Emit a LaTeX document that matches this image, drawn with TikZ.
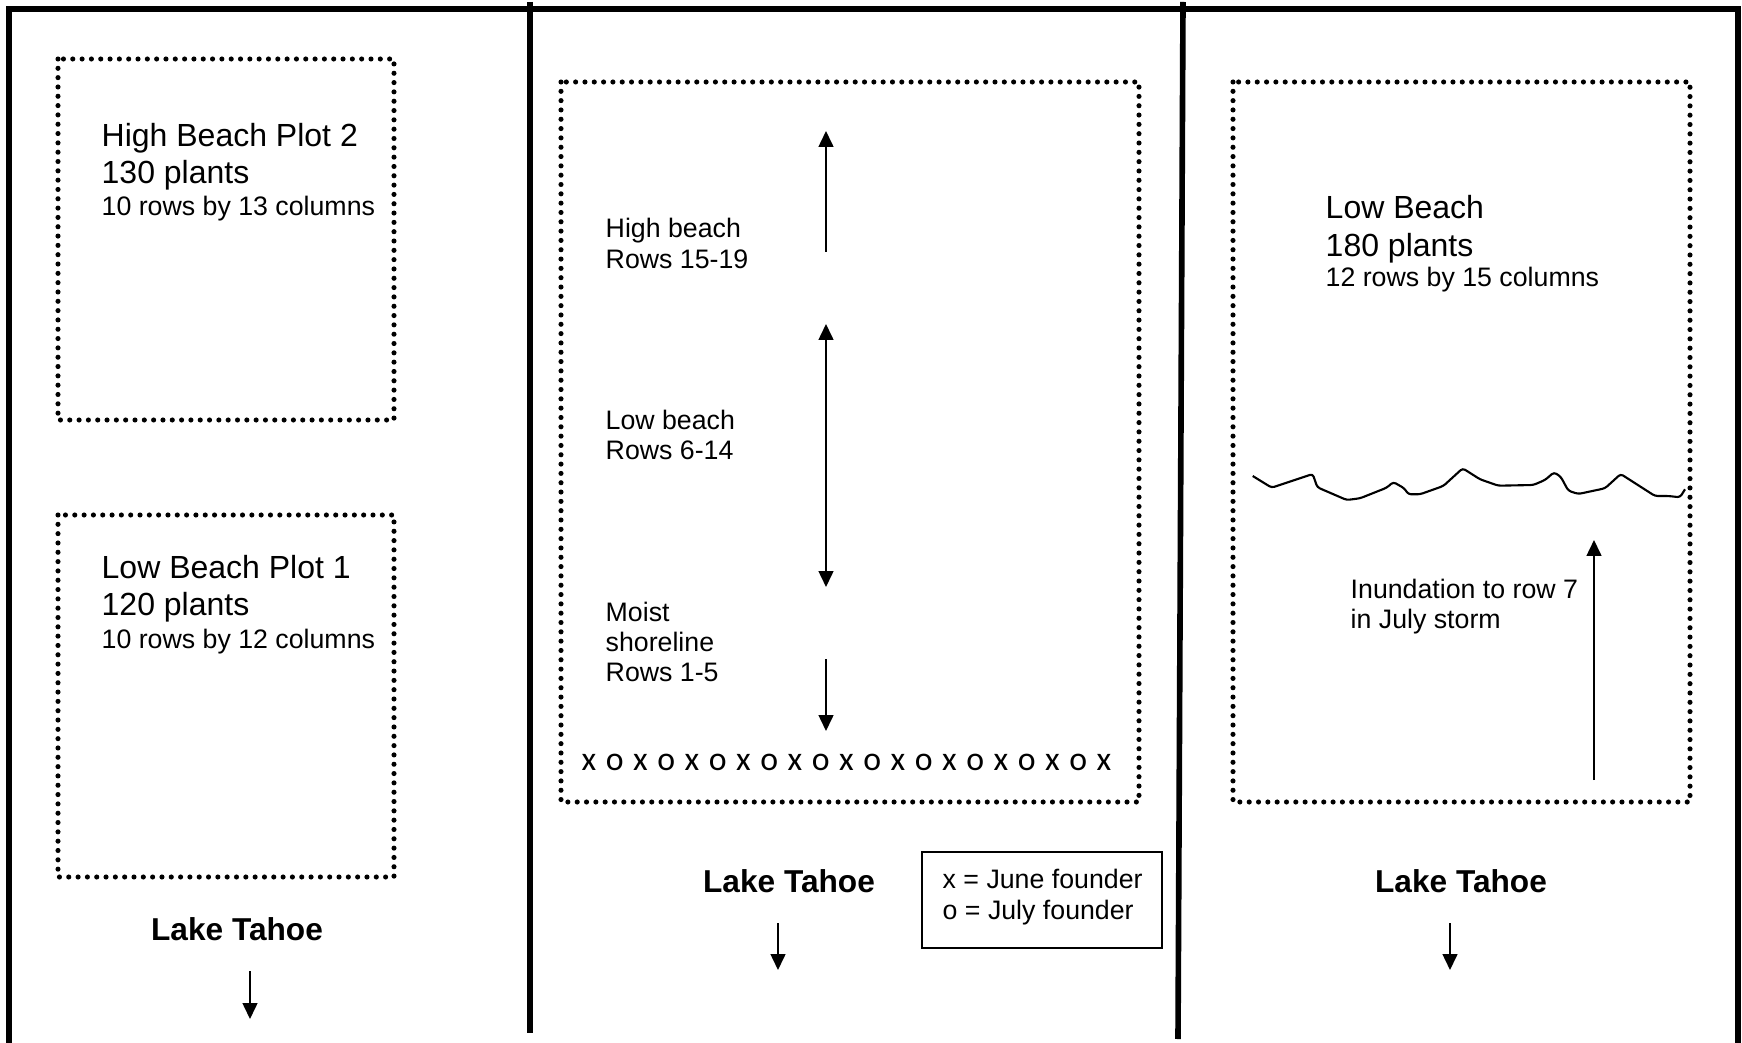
\documentclass[tikz,border=0pt]{standalone}
\usepackage{fontspec}
\setmainfont{Liberation Sans}
\newfontfamily\calfont{Carlito}
\usetikzlibrary{arrows.meta}
\newcommand{\bigtxt}{\fontsize{9.1}{10.5}\selectfont}
\newcommand{\smalltxt}{\fontsize{7.6}{8.8}\selectfont}
\tikzset{
  frame/.style={line width=1.6pt},
  plotbox/.style={line width=1.45pt, dash pattern=on 0pt off 2.65pt, line cap=round},
  arr/.style={-{Triangle[length=4.5pt,width=4.2pt]}, line width=0.5pt},
  twoarr/.style={{Triangle[length=4.5pt,width=4.2pt]}-{Triangle[length=4.5pt,width=4.2pt]}, line width=0.5pt},
  lbl/.style={anchor=base west, inner sep=0pt},
  lake/.style={font=\fontsize{9}{10.5}\selectfont\bfseries, inner sep=0pt}
}
\begin{document}
\begin{tikzpicture}[x=0.01cm, y=-0.01cm]
\useasboundingbox (0,0) rectangle (1742,1043);

% frame and dividers
\draw[frame] (9,1043) -- (9,9) -- (1738,9) -- (1738,1043);
\draw[frame] (530,2) -- (530,1033);
\draw[frame] (1183,2) -- (1178,1039);

% left panel
\draw[plotbox] (58,59) rectangle (394,420);
\draw[plotbox] (58,515) rectangle (394,877);
\node[lbl, font=\bigtxt] (p2a) at (101,147) {High Beach Plot 2};
\node[lbl, font=\bigtxt] (p2b) at (101,184) {130 plants};
\node[lbl, font=\smalltxt] (p2c) at (101,216) {10 rows by 13 columns};
\node[lbl, font=\bigtxt] (p1a) at (101,579) {Low Beach Plot 1};
\node[lbl, font=\bigtxt] (p1b) at (101,616) {120 plants};
\node[lbl, font=\smalltxt] (p1c) at (101,648) {10 rows by 12 columns};
\node[lake] (lakeL) at (237,929) {Lake Tahoe};
\coordinate (dL1) at (250,971);
\coordinate (dL2) at (250,1019);
\draw[arr] (dL1) -- (dL2);

% middle panel
\draw[plotbox] (561,82) rectangle (1139,802);
\node[lbl, font=\smalltxt] (hb1) at (605,238) {High beach};
\node[lbl, font=\smalltxt] (hb2) at (605,269) {Rows 15-19};
\node[lbl, font=\smalltxt] (lb1) at (605,430) {Low beach};
\node[lbl, font=\smalltxt] (lb2) at (605,460) {Rows 6-14};
\node[lbl, font=\smalltxt] (ms1) at (605,621) {Moist};
\node[lbl, font=\smalltxt] (ms2) at (605,652) {shoreline};
\node[lbl, font=\smalltxt] (ms3) at (605,682) {Rows 1-5};
\coordinate (h1) at (826,252);
\coordinate (h2) at (826,131);
\coordinate (l1) at (826,324);
\coordinate (l2) at (826,587);
\coordinate (s1) at (826,659);
\coordinate (s2) at (826,731);
\draw[arr] (h1) -- (h2);
\draw[twoarr] (l1) -- (l2);
\draw[arr] (s1) -- (s2);
\foreach \i in {0,...,20}
  \node[font=\calfont\fontsize{9.6}{11}\selectfont, inner sep=0pt] (f\i)
    at ({589+25.75*\i},762) {\ifodd\i o\else x\fi};
\node[lake] (lakeM) at (789,881) {Lake Tahoe};
\coordinate (dM1) at (778,923);
\coordinate (dM2) at (778,970);
\draw[arr] (dM1) -- (dM2);
\node[draw, line width=0.6pt, minimum width=2.4cm, minimum height=0.96cm] (legend) at (1042,900) {};
\node[lbl, font=\smalltxt] (lg1) at (942,888) {x = June founder};
\node[lbl, font=\smalltxt] (lg2) at (942,919) {o = July founder};

% right panel
\draw[plotbox] (1233,82) rectangle (1690,802);
\node[lbl, font=\bigtxt] (rb1) at (1325,219) {Low Beach};
\node[lbl, font=\bigtxt] (rb2) at (1325,257) {180 plants};
\node[lbl, font=\smalltxt] (rb3) at (1325,287) {12 rows by 15 columns};
\draw[line width=0.6pt, rounded corners=0.8pt]
  (1252.7,476) -- (1271.7,487.7) -- (1312.7,474) -- (1317.3,487.3)
  -- (1346.7,500) -- (1360,498.3) -- (1386.7,487.7) -- (1393.3,482)
  -- (1404.3,488.3) -- (1408.3,494.3) -- (1420,494.3) -- (1443.3,486)
  -- (1462.7,468.3) -- (1480,479.3) -- (1498.3,485.7) -- (1533.3,485)
  -- (1545,480) -- (1554,472.3) -- (1560.7,476.7) -- (1568.3,490.7)
  -- (1578.3,494) -- (1605,488.3) -- (1620.7,474) -- (1655,496)
  -- (1668.3,496) -- (1680,497.3) -- (1685,489.3);
\coordinate (in1) at (1594,780);
\coordinate (in2) at (1594,540);
\draw[arr] (in1) -- (in2);
\node[lbl, font=\smalltxt] (ind1) at (1350,598) {Inundation to row 7};
\node[lbl, font=\smalltxt] (ind2) at (1350,629) {in July storm};
\node[lake] (lakeR) at (1461,881) {Lake Tahoe};
\coordinate (dR1) at (1450,923);
\coordinate (dR2) at (1450,970);
\draw[arr] (dR1) -- (dR2);
\end{tikzpicture}
\end{document}
